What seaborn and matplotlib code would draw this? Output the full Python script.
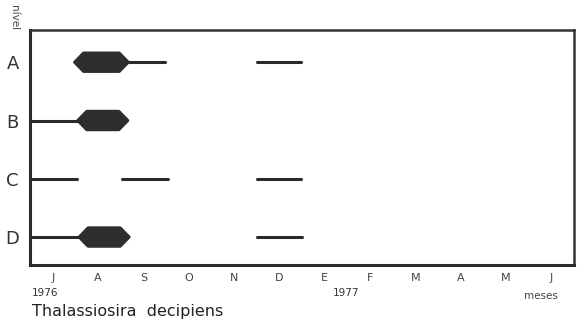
import matplotlib
matplotlib.use("Agg")
from matplotlib import pyplot as plt
import pandas as pd
import seaborn as sns

# meses: 0 = junho 1976 ... 11 = junho 1977
meses = ["J", "A", "S", "O", "N", "D", "E", "F", "M", "A", "M", "J"]
niveis = ["A", "B", "C", "D"]

# traços finos (ocorrência): nível, início, fim (em meses)
fino_nivel = ["A", "A", "B", "C", "C", "C", "D", "D"]
fino_ini = [1.6, 4.5, -0.5, -0.45, 1.53, 4.5, -0.5, 4.5]
fino_fim = [2.48, 5.48, 0.6, 0.53, 2.54, 5.48, 0.62, 5.5]

# manchas grossas (abundância)
grosso_nivel = ["A", "B", "D"]
grosso_ini = [0.48, 0.55, 0.58]
grosso_fim = [1.67, 1.66, 1.69]

sns.set_style("white")
plt.rcParams["font.family"] = ["DejaVu Sans"]

fig = plt.figure(figsize=(5.77, 3.28), dpi=100)
ax = fig.add_axes([0.052, 0.192, 0.943, 0.716])

ypos = {n: i for i, n in enumerate(niveis)}

rows = []
for k, (n, a, b) in enumerate(zip(fino_nivel, fino_ini, fino_fim)):
    rows.append({"seg": k, "mes": a, "nivel": ypos[n]})
    rows.append({"seg": k, "mes": b, "nivel": ypos[n]})
df = pd.DataFrame(rows)

sns.lineplot(data=df, x="mes", y="nivel", units="seg", estimator=None,
             color="#2a2a2a", linewidth=2.2, ax=ax, legend=False)

# manchas hexagonais
t, h = 0.2, 0.16
for n, a, b in zip(grosso_nivel, grosso_ini, grosso_fim):
    y = ypos[n]
    xs = [a, a + t, b - t, b, b - t, a + t]
    ys = [y, y - h, y - h, y, y + h, y + h]
    ax.fill(xs, ys, color="#2e2e2e", linewidth=2, edgecolor="#2e2e2e",
            joinstyle="round")

ax.set_xlim(-0.5, 11.5)
ax.set_ylim(3.48, -0.55)
ax.set_xlabel("")
ax.set_ylabel("")

ax.set_xticks(range(12))
ax.set_xticklabels(meses, fontsize=8, color="#444444")
ax.set_yticks(range(4))
ax.set_yticklabels(niveis, fontsize=13, color="#333333")
ax.tick_params(axis="x", direction="in", length=3, width=1, pad=6, color="#333333")
ax.tick_params(axis="y", direction="in", length=3, width=1, pad=8, color="#333333")

for s in ["left", "bottom"]:
    ax.spines[s].set_linewidth(2.2)
    ax.spines[s].set_color("#2a2a2a")
for s in ["top", "right"]:
    ax.spines[s].set_linewidth(1.8)
    ax.spines[s].set_color("#333333")

fig.text(0.055, 0.108, "1976", fontsize=7.5, color="#333333", va="center")
fig.text(0.577, 0.108, "1977", fontsize=7.5, color="#333333", va="center")
fig.text(0.908, 0.097, "meses", fontsize=7.5, color="#444444", va="center")
fig.text(0.055, 0.05, "Thalassiosira  decipiens", fontsize=11.5,
         color="#222222", va="center")
fig.text(0.024, 0.985, "nível", fontsize=7.5, rotation=-90, va="top",
         ha="center", color="#444444")

fig.savefig("out.png", dpi=100)
